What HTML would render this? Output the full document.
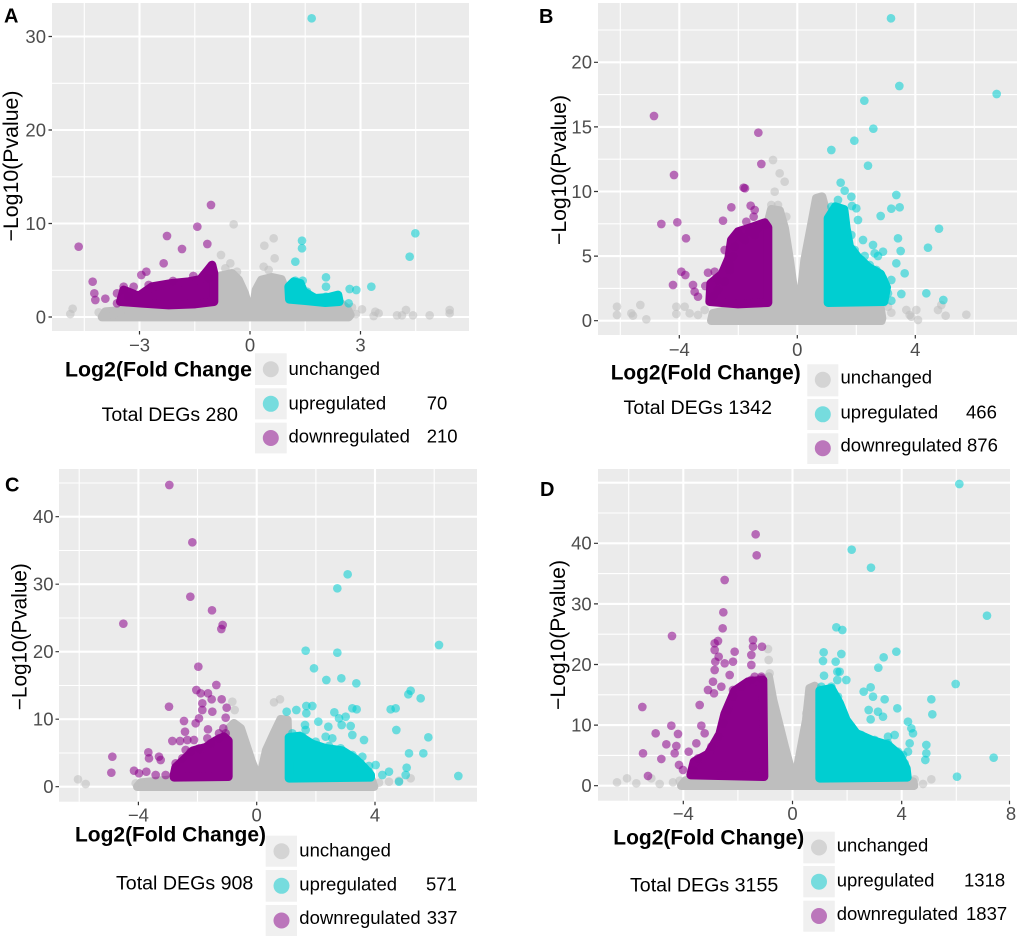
<!DOCTYPE html>
<html><head><meta charset="utf-8"><style>
html,body{margin:0;padding:0;background:#fff}
svg{display:block}
text{font-family:"Liberation Sans",Arial,sans-serif}
.tk{font-size:18.5px;fill:#4d4d4d}
.tl{stroke:#333;stroke-width:1.2;fill:none}
.mj{stroke:#fff;stroke-width:2.1;fill:none}
.mn{stroke:#fff;stroke-width:1.1;fill:none}
.xt{font-size:21px;font-weight:bold;fill:#000}
.yt{font-size:21px;fill:#000}
.tot{font-size:19px;fill:#000}
.lg{font-size:18.5px;fill:#000}
.key{fill:#f0f0f0}
.pl{font-size:20px;font-weight:bold;fill:#000}
.G{fill:#bebebe;stroke:#bebebe;stroke-width:26;stroke-linejoin:round}
.P{fill:#8b008b;stroke:#8b008b;stroke-width:26;stroke-linejoin:round}
.C{fill:#00ced1;stroke:#00ced1;stroke-width:26;stroke-linejoin:round}
.g circle{fill:#bebebe;fill-opacity:.55}
.p circle{fill:#8b008b;fill-opacity:.55}
.c circle{fill:#00ced1;fill-opacity:.55}
</style></head><body>
<svg width="1020" height="941" viewBox="0 0 1020 941" xmlns="http://www.w3.org/2000/svg">
<defs>
<clipPath id="ca"><rect x="52" y="3" width="417" height="328"/></clipPath>
<clipPath id="cb"><rect x="598" y="3" width="419" height="332"/></clipPath>
<clipPath id="cc"><rect x="59" y="469" width="418" height="332.7"/></clipPath>
<clipPath id="cd"><rect x="598" y="469" width="412" height="331.7"/></clipPath>
</defs>

<!-- ================= PANEL A ================= -->
<rect x="52" y="3" width="417" height="328" fill="#ebebeb"/>
<path class="mn" d="M84.3,3V331M194.8,3V331M305.2,3V331M415.7,3V331M52,270.3H469M52,176.8H469M52,83.3H469"/>
<path class="mj" d="M139.5,3V331M250,3V331M360.5,3V331M52,317H469M52,223.5H469M52,130H469M52,36.5H469"/>
<g clip-path="url(#ca)">
<g transform="translate(52,190) scale(0.33333)">
<path class="G" d="M150,381 L160,365 L250,358 L350,352 L480,345 L490,275 L505,258 L540,250 L560,270 L578,310 L592,360 L603,360 L612,300 L628,270 L660,262 L688,268 L700,300 L760,330 L860,335 L885,355 L895,375 L890,381 Z"/>
<g class="g">
<circle cx="55" cy="372" r="13"/><circle cx="62" cy="356" r="13"/><circle cx="140" cy="367" r="13"/><circle cx="165" cy="377" r="13"/><circle cx="180" cy="377" r="13"/><circle cx="205" cy="370" r="13"/><circle cx="230" cy="372" r="13"/><circle cx="270" cy="376" r="13"/><circle cx="300" cy="378" r="13"/><circle cx="545" cy="103" r="13"/><circle cx="507" cy="195" r="13"/><circle cx="637" cy="167" r="13"/><circle cx="665" cy="145" r="13"/><circle cx="668" cy="205" r="13"/><circle cx="520" cy="235" r="13"/><circle cx="535" cy="220" r="13"/><circle cx="635" cy="230" r="13"/><circle cx="650" cy="240" r="13"/><circle cx="555" cy="245" r="13"/><circle cx="930" cy="358" r="13"/><circle cx="970" cy="365" r="13"/><circle cx="980" cy="370" r="13"/><circle cx="965" cy="378" r="13"/><circle cx="1035" cy="376" r="13"/><circle cx="1050" cy="376" r="13"/><circle cx="1062" cy="360" r="13"/><circle cx="1083" cy="376" r="13"/><circle cx="1133" cy="376" r="13"/><circle cx="1193" cy="360" r="13"/><circle cx="1193" cy="370" r="13"/><circle cx="912" cy="372" r="13"/><circle cx="900" cy="352" r="13"/><circle cx="880" cy="368" r="13"/>
</g>
<path class="P" d="M205,335 L215,300 L260,318 L300,290 L360,280 L410,275 L445,268 L468,240 L480,225 L486,250 L486,335 L430,342 L350,345 L270,340 Z"/>
<g class="p">
<circle cx="80" cy="170" r="13"/><circle cx="122" cy="275" r="13"/><circle cx="127" cy="310" r="13"/><circle cx="130" cy="330" r="13"/><circle cx="160" cy="326" r="13"/><circle cx="195" cy="340" r="13"/><circle cx="215" cy="290" r="13"/><circle cx="245" cy="290" r="13"/><circle cx="268" cy="255" r="13"/><circle cx="283" cy="245" r="13"/><circle cx="335" cy="220" r="13"/><circle cx="345" cy="138" r="13"/><circle cx="390" cy="177" r="13"/><circle cx="436" cy="110" r="13"/><circle cx="466" cy="162" r="13"/><circle cx="477" cy="45" r="13"/><circle cx="424" cy="258" r="13"/><circle cx="363" cy="273" r="13"/><circle cx="470" cy="265" r="13"/><circle cx="230" cy="320" r="13"/><circle cx="195" cy="310" r="13"/><circle cx="290" cy="285" r="13"/><circle cx="215" cy="300" r="13"/>
</g>
<path class="C" d="M710,290 L725,275 L745,280 L755,305 L790,325 L830,322 L858,315 L862,335 L820,338 L760,332 L712,328 Z"/>
<g class="c">
<circle cx="779" cy="-515" r="13"/><circle cx="750" cy="152" r="13"/><circle cx="750" cy="175" r="13"/><circle cx="730" cy="215" r="13"/><circle cx="822" cy="262" r="13"/><circle cx="822" cy="290" r="13"/><circle cx="822" cy="320" r="13"/><circle cx="858" cy="320" r="13"/><circle cx="893" cy="297" r="13"/><circle cx="913" cy="300" r="13"/><circle cx="890" cy="340" r="13"/><circle cx="958" cy="290" r="13"/><circle cx="1090" cy="130" r="13"/><circle cx="1073" cy="200" r="13"/><circle cx="730" cy="272" r="13"/><circle cx="752" cy="272" r="13"/><circle cx="765" cy="305" r="13"/><circle cx="800" cy="330" r="13"/>
</g>
</g>
</g>
<path class="tl" d="M48.5,317H52M48.5,223.5H52M48.5,130H52M48.5,36.5H52M139.5,331V334.5M250,331V334.5M360.5,331V334.5"/>
<g class="tk" text-anchor="end">
<text x="46" y="323.4">0</text><text x="46" y="229.9">10</text><text x="46" y="136.4">20</text><text x="46" y="42.9">30</text>
</g>
<g class="tk" text-anchor="middle">
<text x="139.5" y="351.5">−3</text><text x="250" y="351.5">0</text><text x="360.5" y="351.5">3</text>
</g>
<text class="pl" x="4" y="22.5">A</text>
<text class="yt" transform="translate(18,166) rotate(-90)" text-anchor="middle" textLength="151" lengthAdjust="spacingAndGlyphs">−Log10(Pvalue)</text>
<text class="xt" x="65" y="376.7" textLength="187" lengthAdjust="spacingAndGlyphs">Log2(Fold Change</text>
<text class="tot" x="101.7" y="421" textLength="136.3" lengthAdjust="spacingAndGlyphs">Total DEGs 280</text>
<rect class="key" x="255" y="353.3" width="31.7" height="31.7"/>
<rect class="key" x="255" y="388.3" width="31.7" height="31"/>
<rect class="key" x="255" y="422.7" width="31.7" height="30.7"/>
<circle cx="270.8" cy="369.2" r="8" fill="#d4d4d4"/>
<circle cx="270.8" cy="403.8" r="8" fill="#76dcde"/>
<circle cx="270.8" cy="438" r="8" fill="#bb76bb"/>
<text class="lg" x="288.5" y="375">unchanged</text>
<text class="lg" x="288.5" y="409.3">upregulated</text>
<text class="lg" x="288.5" y="442.7">downregulated</text>
<text class="lg" x="426.7" y="409.3">70</text>
<text class="lg" x="426.7" y="442.7">210</text>

<!-- ================= PANEL B ================= -->
<rect x="598" y="3" width="419" height="332" fill="#ebebeb"/>
<path class="mn" d="M620.3,3V335M738.3,3V335M856.3,3V335M974.3,3V335M598,288.4H1017M598,223.8H1017M598,159.2H1017M598,94.6H1017M598,30H1017"/>
<path class="mj" d="M679.3,3V335M797.3,3V335M915.3,3V335M598,320.7H1017M598,256.1H1017M598,191.5H1017M598,126.9H1017M598,62.3H1017"/>
<g clip-path="url(#cb)">
<g transform="translate(598,150) scale(0.33333)">
<path class="G" d="M340,512 L345,490 L400,478 L505,470 L508,225 L520,178 L545,182 L560,235 L575,330 L592,455 L606,455 L620,330 L640,225 L655,145 L672,140 L688,200 L690,462 L800,470 L848,478 L852,505 L850,512 Z"/>
<g class="g">
<circle cx="57" cy="470" r="13"/><circle cx="57" cy="495" r="13"/><circle cx="100" cy="490" r="13"/><circle cx="105" cy="497" r="13"/><circle cx="127" cy="465" r="13"/><circle cx="145" cy="508" r="13"/><circle cx="235" cy="470" r="13"/><circle cx="235" cy="492" r="13"/><circle cx="260" cy="470" r="13"/><circle cx="275" cy="490" r="13"/><circle cx="300" cy="495" r="13"/><circle cx="320" cy="480" r="13"/><circle cx="525" cy="30" r="13"/><circle cx="545" cy="70" r="13"/><circle cx="560" cy="95" r="13"/><circle cx="530" cy="125" r="13"/><circle cx="520" cy="165" r="13"/><circle cx="540" cy="165" r="13"/><circle cx="565" cy="200" r="13"/><circle cx="655" cy="165" r="13"/><circle cx="660" cy="185" r="13"/><circle cx="670" cy="140" r="13"/><circle cx="880" cy="488" r="13"/><circle cx="925" cy="480" r="13"/><circle cx="935" cy="495" r="13"/><circle cx="955" cy="480" r="13"/><circle cx="940" cy="500" r="13"/><circle cx="1020" cy="480" r="13"/><circle cx="1030" cy="465" r="13"/><circle cx="1043" cy="497" r="13"/><circle cx="1105" cy="494" r="13"/><circle cx="855" cy="460" r="13"/><circle cx="960" cy="510" r="13"/><circle cx="870" cy="470" r="13"/>
</g>
<path class="P" d="M335,455 L338,400 L372,372 L392,325 L400,270 L420,245 L460,232 L500,218 L510,232 L510,458 L420,462 Z"/>
<g class="p">
<circle cx="228" cy="75" r="13"/><circle cx="190" cy="222" r="13"/><circle cx="238" cy="217" r="13"/><circle cx="264" cy="265" r="13"/><circle cx="250" cy="365" r="13"/><circle cx="262" cy="375" r="13"/><circle cx="225" cy="405" r="13"/><circle cx="285" cy="405" r="13"/><circle cx="290" cy="425" r="13"/><circle cx="300" cy="440" r="13"/><circle cx="322" cy="408" r="13"/><circle cx="330" cy="368" r="13"/><circle cx="350" cy="365" r="13"/><circle cx="375" cy="212" r="13"/><circle cx="400" cy="172" r="13"/><circle cx="437" cy="113" r="13"/><circle cx="441" cy="115" r="13"/><circle cx="458" cy="167" r="13"/><circle cx="470" cy="180" r="13"/><circle cx="467" cy="200" r="13"/><circle cx="445" cy="215" r="13"/><circle cx="490" cy="42" r="13"/><circle cx="420" cy="250" r="13"/><circle cx="168" cy="-102" r="13"/><circle cx="481" cy="-52" r="13"/><circle cx="380" cy="300" r="13"/><circle cx="395" cy="345" r="13"/><circle cx="360" cy="390" r="13"/>
<circle cx="345" cy="440" r="13"/><circle cx="360" cy="420" r="13"/><circle cx="380" cy="395" r="13"/><circle cx="395" cy="360" r="13"/><circle cx="405" cy="320" r="13"/><circle cx="410" cy="290" r="13"/><circle cx="430" cy="260" r="13"/><circle cx="455" cy="245" r="13"/><circle cx="480" cy="235" r="13"/><circle cx="505" cy="225" r="13"/><circle cx="440" cy="270" r="13"/><circle cx="470" cy="255" r="13"/>
</g>
<path class="C" d="M690,205 L712,170 L738,178 L745,235 L755,290 L780,322 L812,352 L848,372 L866,412 L858,455 L690,458 Z"/>
<g class="c">
<circle cx="700" cy="0" r="13"/><circle cx="810" cy="47" r="13"/><circle cx="728" cy="98" r="13"/><circle cx="740" cy="122" r="13"/><circle cx="760" cy="140" r="13"/><circle cx="762" cy="168" r="13"/><circle cx="775" cy="175" r="13"/><circle cx="740" cy="205" r="13"/><circle cx="848" cy="198" r="13"/><circle cx="895" cy="135" r="13"/><circle cx="880" cy="176" r="13"/><circle cx="905" cy="172" r="13"/><circle cx="1023" cy="236" r="13"/><circle cx="990" cy="293" r="13"/><circle cx="900" cy="265" r="13"/><circle cx="908" cy="303" r="13"/><circle cx="895" cy="340" r="13"/><circle cx="920" cy="370" r="13"/><circle cx="880" cy="390" r="13"/><circle cx="910" cy="432" r="13"/><circle cx="880" cy="452" r="13"/><circle cx="985" cy="430" r="13"/><circle cx="1036" cy="450" r="13"/><circle cx="830" cy="310" r="13"/><circle cx="825" cy="285" r="13"/><circle cx="800" cy="318" r="13"/><circle cx="840" cy="318" r="13"/><circle cx="855" cy="305" r="13"/><circle cx="795" cy="270" r="13"/><circle cx="879" cy="-395" r="13"/><circle cx="904" cy="-192" r="13"/><circle cx="1196" cy="-168" r="13"/><circle cx="799" cy="-148" r="13"/><circle cx="826" cy="-64" r="13"/><circle cx="769" cy="-28" r="13"/><circle cx="760" cy="255" r="13"/><circle cx="780" cy="210" r="13"/><circle cx="720" cy="150" r="13"/>
<circle cx="700" cy="170" r="13"/><circle cx="715" cy="200" r="13"/><circle cx="730" cy="240" r="13"/><circle cx="745" cy="270" r="13"/><circle cx="770" cy="300" r="13"/><circle cx="790" cy="330" r="13"/><circle cx="815" cy="345" r="13"/><circle cx="835" cy="360" r="13"/><circle cx="855" cy="385" r="13"/><circle cx="870" cy="430" r="13"/><circle cx="700" cy="260" r="13"/><circle cx="720" cy="310" r="13"/>
</g>
</g>
</g>
<path class="tl" d="M594,320.7H598M594,256.1H598M594,191.5H598M594,126.9H598M594,62.3H598M679.3,335V338.5M797.3,335V338.5M915.3,335V338.5"/>
<g class="tk" text-anchor="end">
<text x="592" y="327.1">0</text><text x="592" y="262.5">5</text><text x="592" y="197.9">10</text><text x="592" y="133.3">15</text><text x="592" y="68.7">20</text>
</g>
<g class="tk" text-anchor="middle">
<text x="679.3" y="356">−4</text><text x="797.3" y="356">0</text><text x="915.3" y="356">4</text>
</g>
<text class="pl" x="539" y="23">B</text>
<text class="yt" transform="translate(566,170) rotate(-90)" text-anchor="middle" textLength="150" lengthAdjust="spacingAndGlyphs">−Log10(Pvalue)</text>
<text class="xt" x="610.7" y="379.3" textLength="190" lengthAdjust="spacingAndGlyphs">Log2(Fold Change)</text>
<text class="tot" x="623.5" y="414" textLength="148.5" lengthAdjust="spacingAndGlyphs">Total DEGs 1342</text>
<rect class="key" x="807.3" y="364.3" width="31" height="32"/>
<rect class="key" x="807.3" y="399" width="31" height="31"/>
<rect class="key" x="807.3" y="433.3" width="31" height="30.7"/>
<circle cx="822.8" cy="379.8" r="8" fill="#d4d4d4"/>
<circle cx="822.8" cy="414.3" r="8" fill="#76dcde"/>
<circle cx="822.8" cy="448.2" r="8" fill="#bb76bb"/>
<text class="lg" x="840.5" y="383.5">unchanged</text>
<text class="lg" x="840.5" y="418.3">upregulated</text>
<text class="lg" x="840.5" y="451.7">downregulated</text>
<text class="lg" x="966" y="418.3">466</text>
<text class="lg" x="967" y="451.7">876</text>

<!-- ================= PANEL C ================= -->
<rect x="59" y="469" width="418" height="332.7" fill="#ebebeb"/>
<path class="mn" d="M79.2,469V801.7M197.5,469V801.7M315.9,469V801.7M434.2,469V801.7M59,753H477M59,685.5H477M59,618H477M59,550.5H477M59,483H477"/>
<path class="mj" d="M138.4,469V801.7M256.7,469V801.7M375,469V801.7M59,786.7H477M59,719.2H477M59,651.7H477M59,584.2H477M59,516.7H477"/>
<g clip-path="url(#cc)">
<g transform="translate(59,640) scale(0.33333)">
<path class="G" d="M235,440 L245,428 L330,420 L505,412 L510,265 L525,250 L545,265 L560,310 L578,365 L594,405 L606,402 L622,330 L645,280 L665,238 L685,240 L690,412 L880,414 L938,420 L945,440 Z"/>
<g class="g">
<circle cx="57" cy="418" r="13"/><circle cx="80" cy="432" r="13"/><circle cx="230" cy="430" r="13"/><circle cx="250" cy="432" r="13"/><circle cx="520" cy="185" r="13"/><circle cx="527" cy="210" r="13"/><circle cx="645" cy="187" r="13"/><circle cx="663" cy="178" r="13"/><circle cx="990" cy="425" r="13"/><circle cx="1020" cy="422" r="13"/><circle cx="1055" cy="415" r="13"/><circle cx="960" cy="428" r="13"/><circle cx="300" cy="430" r="13"/>
</g>
<path class="P" d="M345,405 L350,382 L382,352 L402,332 L440,322 L470,302 L495,290 L508,302 L508,410 L345,412 Z"/>
<g class="p">
<circle cx="418" cy="80" r="13"/><circle cx="472" cy="135" r="13"/><circle cx="412" cy="150" r="13"/><circle cx="425" cy="160" r="13"/><circle cx="447" cy="160" r="13"/><circle cx="458" cy="178" r="13"/><circle cx="488" cy="178" r="13"/><circle cx="503" cy="203" r="13"/><circle cx="330" cy="200" r="13"/><circle cx="430" cy="190" r="13"/><circle cx="430" cy="210" r="13"/><circle cx="460" cy="215" r="13"/><circle cx="420" cy="235" r="13"/><circle cx="375" cy="243" r="13"/><circle cx="500" cy="233" r="13"/><circle cx="410" cy="250" r="13"/><circle cx="447" cy="268" r="13"/><circle cx="493" cy="265" r="13"/><circle cx="378" cy="275" r="13"/><circle cx="385" cy="300" r="13"/><circle cx="405" cy="300" r="13"/><circle cx="340" cy="303" r="13"/><circle cx="363" cy="303" r="13"/><circle cx="445" cy="295" r="13"/><circle cx="268" cy="337" r="13"/><circle cx="270" cy="355" r="13"/><circle cx="300" cy="350" r="13"/><circle cx="305" cy="360" r="13"/><circle cx="160" cy="350" r="13"/><circle cx="157" cy="398" r="13"/><circle cx="225" cy="392" r="13"/><circle cx="240" cy="400" r="13"/><circle cx="262" cy="395" r="13"/><circle cx="290" cy="405" r="13"/><circle cx="320" cy="405" r="13"/><circle cx="380" cy="330" r="13"/><circle cx="480" cy="280" r="13"/><circle cx="331" cy="-465" r="13"/><circle cx="400" cy="-293" r="13"/><circle cx="394" cy="-130" r="13"/><circle cx="459" cy="-89" r="13"/><circle cx="491" cy="-45" r="13"/><circle cx="487" cy="-33" r="13"/><circle cx="193" cy="-49" r="13"/>
<circle cx="350" cy="370" r="13"/><circle cx="370" cy="355" r="13"/><circle cx="395" cy="335" r="13"/><circle cx="420" cy="325" r="13"/><circle cx="455" cy="310" r="13"/><circle cx="480" cy="295" r="13"/><circle cx="500" cy="280" r="13"/>
</g>
<path class="C" d="M690,292 L722,288 L760,312 L800,325 L850,332 L888,356 L915,382 L935,405 L935,412 L690,415 Z"/>
<g class="c">
<circle cx="740" cy="32" r="13"/><circle cx="835" cy="38" r="13"/><circle cx="765" cy="85" r="13"/><circle cx="802" cy="120" r="13"/><circle cx="847" cy="115" r="13"/><circle cx="892" cy="130" r="13"/><circle cx="683" cy="215" r="13"/><circle cx="712" cy="210" r="13"/><circle cx="742" cy="198" r="13"/><circle cx="760" cy="198" r="13"/><circle cx="742" cy="220" r="13"/><circle cx="826" cy="217" r="13"/><circle cx="840" cy="235" r="13"/><circle cx="860" cy="230" r="13"/><circle cx="880" cy="205" r="13"/><circle cx="893" cy="208" r="13"/><circle cx="738" cy="255" r="13"/><circle cx="740" cy="270" r="13"/><circle cx="778" cy="245" r="13"/><circle cx="808" cy="260" r="13"/><circle cx="848" cy="255" r="13"/><circle cx="875" cy="258" r="13"/><circle cx="800" cy="290" r="13"/><circle cx="820" cy="295" r="13"/><circle cx="880" cy="285" r="13"/><circle cx="915" cy="300" r="13"/><circle cx="910" cy="350" r="13"/><circle cx="930" cy="378" r="13"/><circle cx="950" cy="375" r="13"/><circle cx="970" cy="405" r="13"/><circle cx="990" cy="395" r="13"/><circle cx="1040" cy="405" r="13"/><circle cx="1043" cy="383" r="13"/><circle cx="1050" cy="340" r="13"/><circle cx="1093" cy="340" r="13"/><circle cx="1108" cy="292" r="13"/><circle cx="1012" cy="270" r="13"/><circle cx="995" cy="208" r="13"/><circle cx="1010" cy="205" r="13"/><circle cx="1048" cy="163" r="13"/><circle cx="1055" cy="152" r="13"/><circle cx="1085" cy="175" r="13"/><circle cx="1140" cy="15" r="13"/><circle cx="1198" cy="408" r="13"/><circle cx="1020" cy="425" r="13"/><circle cx="866" cy="-197" r="13"/><circle cx="835" cy="-155" r="13"/>
<circle cx="700" cy="280" r="13"/><circle cx="730" cy="290" r="13"/><circle cx="770" cy="305" r="13"/><circle cx="810" cy="318" r="13"/><circle cx="845" cy="325" r="13"/><circle cx="880" cy="345" r="13"/><circle cx="905" cy="370" r="13"/><circle cx="930" cy="395" r="13"/>
</g>
</g>
</g>
<path class="tl" d="M55.5,786.7H59M55.5,719.2H59M55.5,651.7H59M55.5,584.2H59M55.5,516.7H59M138.4,801.7V805.2M256.7,801.7V805.2M375,801.7V805.2"/>
<g class="tk" text-anchor="end">
<text x="53.5" y="793.1">0</text><text x="53.5" y="725.6">10</text><text x="53.5" y="658.1">20</text><text x="53.5" y="590.6">30</text><text x="53.5" y="523.1">40</text>
</g>
<g class="tk" text-anchor="middle">
<text x="138.4" y="821.7">−4</text><text x="256.7" y="821.7">0</text><text x="375" y="821.7">4</text>
</g>
<text class="pl" x="5" y="491.7">C</text>
<text class="yt" transform="translate(26.5,636.7) rotate(-90)" text-anchor="middle" textLength="147" lengthAdjust="spacingAndGlyphs">−Log10(Pvalue)</text>
<text class="xt" x="75" y="841.7" textLength="191" lengthAdjust="spacingAndGlyphs">Log2(Fold Change)</text>
<text class="tot" x="116" y="889.5" textLength="137.3" lengthAdjust="spacingAndGlyphs">Total DEGs 908</text>
<rect class="key" x="265.7" y="835.7" width="31.3" height="31"/>
<rect class="key" x="265.7" y="870" width="31.3" height="31.7"/>
<rect class="key" x="265.7" y="905" width="31.3" height="31"/>
<circle cx="281.5" cy="851.2" r="8" fill="#d4d4d4"/>
<circle cx="281.5" cy="885.8" r="8" fill="#76dcde"/>
<circle cx="281.5" cy="920.5" r="8" fill="#bb76bb"/>
<text class="lg" x="299.3" y="856.7">unchanged</text>
<text class="lg" x="299.3" y="890.7">upregulated</text>
<text class="lg" x="299.3" y="924">downregulated</text>
<text class="lg" x="426" y="890.7">571</text>
<text class="lg" x="426.7" y="924">337</text>

<!-- ================= PANEL D ================= -->
<rect x="598" y="469" width="412" height="331.7" fill="#ebebeb"/>
<path class="mn" d="M628.7,469V800.7M737.9,469V800.7M847.1,469V800.7M956.3,469V800.7M598,755.4H1010M598,694.8H1010M598,634.2H1010M598,573.6H1010M598,513H1010"/>
<path class="mj" d="M683.3,469V800.7M792.5,469V800.7M901.7,469V800.7M598,785.7H1010M598,725.1H1010M598,664.5H1010M598,603.9H1010M598,543.3H1010M598,482.7H1010"/>
<g clip-path="url(#cd)">
<g transform="translate(598,580) scale(0.33333)">
<path class="G" d="M250,617 L262,602 L300,596 L495,590 L498,335 L512,290 L525,360 L540,420 L560,500 L580,575 L596,575 L610,500 L625,420 L635,325 L650,318 L662,330 L665,595 L900,597 L945,605 L948,617 Z"/>
<g class="g">
<circle cx="57" cy="607" r="13"/><circle cx="87" cy="595" r="13"/><circle cx="115" cy="610" r="13"/><circle cx="160" cy="595" r="13"/><circle cx="185" cy="612" r="13"/><circle cx="225" cy="607" r="13"/><circle cx="245" cy="602" r="13"/><circle cx="510" cy="207" r="13"/><circle cx="515" cy="280" r="13"/><circle cx="512" cy="240" r="13"/><circle cx="630" cy="435" r="13"/><circle cx="625" cy="400" r="13"/><circle cx="640" cy="405" r="13"/><circle cx="910" cy="610" r="13"/><circle cx="945" cy="610" r="13"/><circle cx="975" cy="612" r="13"/><circle cx="1000" cy="598" r="13"/><circle cx="950" cy="598" r="13"/><circle cx="880" cy="605" r="13"/>
</g>
<path class="P" d="M278,585 L288,545 L330,522 L365,462 L380,402 L410,332 L450,305 L495,300 L498,590 Z"/>
<g class="p">
<circle cx="380" cy="0" r="13"/><circle cx="376" cy="97" r="13"/><circle cx="374" cy="145" r="13"/><circle cx="222" cy="168" r="13"/><circle cx="133" cy="381" r="13"/><circle cx="135" cy="520" r="13"/><circle cx="150" cy="588" r="13"/><circle cx="173" cy="460" r="13"/><circle cx="190" cy="537" r="13"/><circle cx="205" cy="493" r="13"/><circle cx="220" cy="437" r="13"/><circle cx="240" cy="462" r="13"/><circle cx="235" cy="498" r="13"/><circle cx="230" cy="520" r="13"/><circle cx="243" cy="555" r="13"/><circle cx="255" cy="570" r="13"/><circle cx="272" cy="515" r="13"/><circle cx="295" cy="490" r="13"/><circle cx="305" cy="375" r="13"/><circle cx="310" cy="437" r="13"/><circle cx="320" cy="460" r="13"/><circle cx="330" cy="330" r="13"/><circle cx="348" cy="340" r="13"/><circle cx="350" cy="190" r="13"/><circle cx="360" cy="183" r="13"/><circle cx="350" cy="210" r="13"/><circle cx="362" cy="230" r="13"/><circle cx="352" cy="245" r="13"/><circle cx="350" cy="270" r="13"/><circle cx="380" cy="250" r="13"/><circle cx="405" cy="245" r="13"/><circle cx="410" cy="215" r="13"/><circle cx="465" cy="180" r="13"/><circle cx="465" cy="200" r="13"/><circle cx="492" cy="200" r="13"/><circle cx="460" cy="225" r="13"/><circle cx="460" cy="255" r="13"/><circle cx="470" cy="290" r="13"/><circle cx="490" cy="295" r="13"/><circle cx="395" cy="285" r="13"/><circle cx="345" cy="305" r="13"/><circle cx="370" cy="320" r="13"/><circle cx="405" cy="330" r="13"/><circle cx="473" cy="-137" r="13"/><circle cx="476" cy="-74" r="13"/>
<circle cx="285" cy="570" r="13"/><circle cx="300" cy="535" r="13"/><circle cx="340" cy="500" r="13"/><circle cx="360" cy="470" r="13"/><circle cx="375" cy="430" r="13"/><circle cx="390" cy="390" r="13"/><circle cx="405" cy="350" r="13"/><circle cx="430" cy="320" r="13"/><circle cx="460" cy="300" r="13"/><circle cx="490" cy="290" r="13"/>
</g>
<path class="C" d="M665,332 L700,325 L725,370 L745,420 L775,460 L820,480 L870,495 L905,525 L925,565 L928,592 L665,595 Z"/>
<g class="c">
<circle cx="715" cy="142" r="13"/><circle cx="733" cy="150" r="13"/><circle cx="677" cy="217" r="13"/><circle cx="675" cy="243" r="13"/><circle cx="713" cy="245" r="13"/><circle cx="730" cy="222" r="13"/><circle cx="718" cy="275" r="13"/><circle cx="725" cy="275" r="13"/><circle cx="678" cy="287" r="13"/><circle cx="718" cy="300" r="13"/><circle cx="745" cy="300" r="13"/><circle cx="797" cy="335" r="13"/><circle cx="818" cy="322" r="13"/><circle cx="825" cy="350" r="13"/><circle cx="812" cy="390" r="13"/><circle cx="818" cy="418" r="13"/><circle cx="840" cy="395" r="13"/><circle cx="860" cy="358" r="13"/><circle cx="895" cy="215" r="13"/><circle cx="857" cy="232" r="13"/><circle cx="841" cy="263" r="13"/><circle cx="898" cy="385" r="13"/><circle cx="930" cy="425" r="13"/><circle cx="940" cy="445" r="13"/><circle cx="945" cy="460" r="13"/><circle cx="935" cy="490" r="13"/><circle cx="930" cy="515" r="13"/><circle cx="915" cy="525" r="13"/><circle cx="985" cy="495" r="13"/><circle cx="985" cy="520" r="13"/><circle cx="982" cy="540" r="13"/><circle cx="1000" cy="358" r="13"/><circle cx="1003" cy="403" r="13"/><circle cx="1073" cy="312" r="13"/><circle cx="1167" cy="107" r="13"/><circle cx="1187" cy="533" r="13"/><circle cx="1077" cy="590" r="13"/><circle cx="855" cy="410" r="13"/><circle cx="870" cy="470" r="13"/><circle cx="890" cy="465" r="13"/><circle cx="1084" cy="-288" r="13"/><circle cx="761" cy="-91" r="13"/><circle cx="819" cy="-37" r="13"/>
<circle cx="670" cy="320" r="13"/><circle cx="700" cy="320" r="13"/><circle cx="720" cy="350" r="13"/><circle cx="735" cy="395" r="13"/><circle cx="760" cy="440" r="13"/><circle cx="790" cy="465" r="13"/><circle cx="830" cy="480" r="13"/><circle cx="870" cy="490" r="13"/><circle cx="900" cy="515" r="13"/><circle cx="920" cy="550" r="13"/>
</g>
</g>
</g>
<path class="tl" d="M594,785.7H598M594,725.1H598M594,664.5H598M594,603.9H598M594,543.3H598M683.3,800.7V804.2M792.5,800.7V804.2M901.7,800.7V804.2M1009.5,800.7V804.2"/>
<g class="tk" text-anchor="end">
<text x="591.7" y="792.1">0</text><text x="591.7" y="731.5">10</text><text x="591.7" y="670.9">20</text><text x="591.7" y="610.3">30</text><text x="591.7" y="549.7">40</text>
</g>
<g class="tk" text-anchor="middle">
<text x="683.3" y="820">−4</text><text x="792.5" y="820">0</text><text x="901.7" y="820">4</text><text x="1011" y="820">8</text>
</g>
<text class="pl" x="540" y="496">D</text>
<text class="yt" transform="translate(565,635) rotate(-90)" text-anchor="middle" textLength="150" lengthAdjust="spacingAndGlyphs">−Log10(Pvalue)</text>
<text class="xt" x="613.3" y="844.5" textLength="191" lengthAdjust="spacingAndGlyphs">Log2(Fold Change)</text>
<text class="tot" x="630" y="891.5" textLength="148.3" lengthAdjust="spacingAndGlyphs">Total DEGs 3155</text>
<rect class="key" x="803.3" y="831.7" width="31.5" height="31.6"/>
<rect class="key" x="803.3" y="866" width="31.5" height="31.3"/>
<rect class="key" x="803.3" y="900.7" width="31.5" height="31"/>
<circle cx="819" cy="847.5" r="8" fill="#d4d4d4"/>
<circle cx="819" cy="881.7" r="8" fill="#76dcde"/>
<circle cx="819" cy="916" r="8" fill="#bb76bb"/>
<text class="lg" x="836.7" y="851.7">unchanged</text>
<text class="lg" x="836.7" y="886.5">upregulated</text>
<text class="lg" x="836.7" y="920">downregulated</text>
<text class="lg" x="964" y="886.5">1318</text>
<text class="lg" x="966" y="920">1837</text>
</svg>
</body></html>
